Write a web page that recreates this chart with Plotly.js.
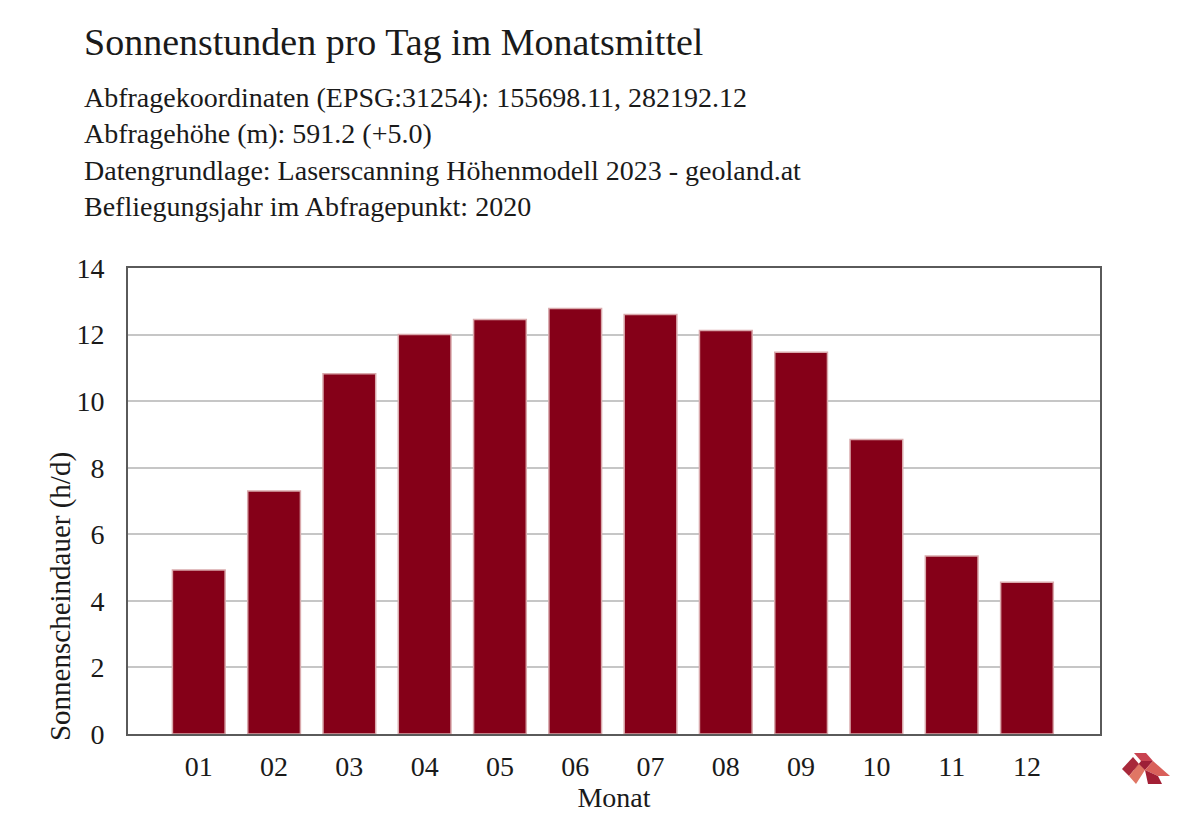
<!DOCTYPE html>
<html>
<head>
<meta charset="utf-8">
<script src="https://cdn.plot.ly/plotly-3.0.1.min.js"></script>
<style>
  html, body { margin: 0; padding: 0; background: #fff; }
  #chart { width: 1200px; height: 825px; }
</style>
</head>
<body>
<div id="chart"></div>
<script>
// Monatsmittel der Sonnenscheindauer (h/d)
const months = ["01", "02", "03", "04", "05", "06", "07", "08", "09", "10", "11", "12"];
const hours = [4.93, 7.3, 10.82, 12.0, 12.45, 12.78, 12.6, 12.12, 11.47, 8.85, 5.35, 4.56];

const titleText = "Sonnenstunden pro Tag im Monatsmittel";
const infoLines = [
  "Abfragekoordinaten (EPSG:31254): 155698.11, 282192.12",
  "Abfragehöhe (m): 591.2 (+5.0)",
  "Datengrundlage: Laserscanning Höhenmodell 2023 - geoland.at",
  "Befliegungsjahr im Abfragepunkt: 2020",
];
const yTitle = "Sonnenscheindauer (h/d)";

const serif = "Liberation Serif, Times New Roman, serif";
const textColor = "#1a1a1a";

const trace = {
  type: "bar",
  x: months,
  y: hours,
  marker: {
    color: "#850018",
    line: { color: "#d9a9ac", width: 1.5 },
  },
  hoverinfo: "x+y",
};

// Info-Zeilen unter dem Titel
const lineY = [1.365, 1.288, 1.21, 1.133];
let annotations = infoLines.map((t, i) => ({
  text: t,
  xref: "paper",
  yref: "paper",
  x: -0.0475,
  y: lineY[i],
  xanchor: "left",
  yanchor: "middle",
  showarrow: false,
  font: { family: serif, size: 28, color: textColor },
}));

// y-Achsentitel sitzt im Original etwas unterhalb der Mitte
annotations.push({
  text: yTitle,
  xref: "paper",
  yref: "paper",
  x: -0.07,
  y: 0.296,
  xanchor: "center",
  yanchor: "middle",
  textangle: -90,
  showarrow: false,
  font: { family: serif, size: 29, color: textColor },
});

// kleines Logo rechts unten (Pixel relativ zur rechten unteren Ecke des Plots)
function logoPiece(pts, color) {
  const path = "M" + pts.map(p => (p[0] - 1100) + "," + (734 - p[1])).join(" L") + " Z";
  return {
    type: "path",
    xref: "paper", yref: "paper",
    xsizemode: "pixel", ysizemode: "pixel",
    xanchor: 1, yanchor: 0,
    path: path,
    fillcolor: color,
    line: { width: 0 },
  };
}
const shapes = [
  logoPiece([[1134, 753], [1146, 753], [1153, 761], [1141, 761]], "#c94350"),
  logoPiece([[1141, 761], [1153, 761], [1145, 770], [1134, 770]], "#9e1f37"),
  logoPiece([[1122, 769], [1133, 757], [1139, 764], [1129, 776]], "#a8283a"),
  logoPiece([[1129, 776], [1139, 764], [1145, 770], [1136, 784]], "#e07664"),
  logoPiece([[1145, 770], [1153, 761], [1170, 776], [1158, 776]], "#d9605a"),
  logoPiece([[1145, 770], [1158, 776], [1162, 784], [1148, 784]], "#a31f35"),
];

const layout = {
  width: 1200,
  height: 825,
  paper_bgcolor: "#ffffff",
  plot_bgcolor: "#ffffff",
  font: { family: serif, size: 28, color: textColor },
  title: {
    text: titleText,
    xref: "container",
    yref: "container",
    x: 84 / 1200,
    xanchor: "left",
    y: 1 - 42 / 825,
    yanchor: "middle",
    font: { family: serif, size: 38, color: textColor },
  },
  margin: { l: 128, r: 100, t: 268, b: 91, pad: 0 },
  bargap: 0.3,
  showlegend: false,
  xaxis: {
    type: "category",
    range: [-0.94, 11.97],
    title: { text: "Monat", standoff: 4, font: { family: serif, size: 28, color: textColor } },
    tickfont: { family: serif, size: 28, color: textColor },
    ticks: "outside",
    ticklen: 6,
    tickcolor: "rgba(0,0,0,0)",
    showline: true,
    linecolor: "#5a5a5a",
    linewidth: 2,
    mirror: true,
    showgrid: false,
    zeroline: false,
  },
  yaxis: {
    range: [0, 14],
    dtick: 2,
    tickfont: { family: serif, size: 28, color: textColor },
    ticks: "outside",
    ticklen: 16,
    tickcolor: "rgba(0,0,0,0)",
    showline: true,
    linecolor: "#5a5a5a",
    linewidth: 2,
    mirror: true,
    showgrid: true,
    gridcolor: "#c6c6c6",
    gridwidth: 2,
    zeroline: false,
  },
  annotations: annotations,
  shapes: shapes,
};

Plotly.newPlot("chart", [trace], layout, { displayModeBar: false, responsive: false });
</script>
</body>
</html>
